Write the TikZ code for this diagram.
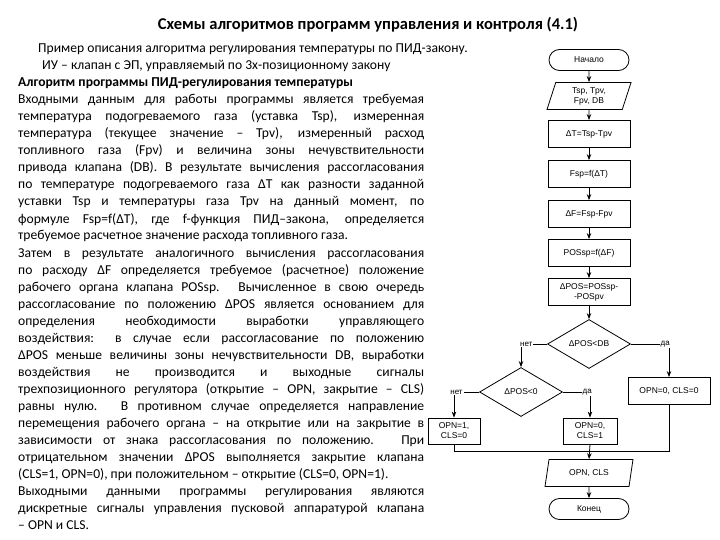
\documentclass[tikz,border=0pt]{standalone}
\usepackage{fontspec}
\setmainfont{Carlito}
\newfontfamily\fcs{Liberation Sans}
\usetikzlibrary{shapes.geometric,shapes.misc,arrows.meta}
\newcommand{\jl}[3]{\node[anchor=base west] (#1) at (18,#2) {\makebox[406pt][s]{#3}};}
\newcommand{\pl}[4]{\node[anchor=base west] (#1) at (#2,#3) {#4};}
\begin{document}
\begin{tikzpicture}[x=1pt,y=-1pt,
 txt/.style={font=\fontsize{13.6}{15}\selectfont,inner sep=0},
 fb/.style={draw,thick,font=\fcs\fontsize{8.5}{10}\selectfont,align=center,inner sep=1pt},
 proc/.style={fb,minimum width=82pt,minimum height=27pt},
 term/.style={fb,rounded rectangle,minimum width=82pt,minimum height=21pt},
 io/.style={fb,trapezium,trapezium left angle=66,trapezium right angle=114,minimum width=84pt,minimum height=27pt,trapezium stretches body},
 dec/.style={fb,diamond,minimum width=83pt,minimum height=49pt,inner sep=0},
 arr/.style={thick,-{Stealth[length=6pt]}},
 ln/.style={thick},
 lab/.style={font=\fcs\fontsize{8}{9}\selectfont,inner sep=1pt,fill=white}]
\useasboundingbox (0,0) rectangle (720,540);
\node[font=\fontsize{16.5}{18}\selectfont\bfseries] (title) at (368,25) {Схемы алгоритмов программ управления и контроля (4.1)};
\begin{scope}[every node/.style={txt}]
\pl{l1}{38}{53}{Пример описания алгоритма регулирования температуры по ПИД-закону.}
\pl{l2}{42}{70}{ИУ – клапан с ЭП, управляемый по 3х-позиционному закону}
\pl{l3}{18}{87}{\bfseries Алгоритм программы ПИД-регулирования температуры}
\jl{l4}{104}{Входными данным для работы программы является требуемая}
\jl{l5}{121}{температура подогреваемого газа (уставка Tsp), измеренная}
\jl{l6}{138}{температура (текущее значение – Tpv), измеренный расход}
\jl{l7}{155}{топливного газа (Fpv) и величина зоны нечувствительности}
\jl{l8}{172}{привода клапана (DB). В результате вычисления рассогласования}
\jl{l9}{189}{по температуре подогреваемого газа ΔT как разности заданной}
\jl{l10}{206}{уставки Tsp и температуры газа Tpv на данный момент, по}
\jl{l11}{223}{формуле Fsp=f(ΔT), где f-функция ПИД–закона, определяется}
\pl{l12}{18}{240}{требуемое расчетное значение расхода топливного газа.}
\jl{l13}{257}{Затем в результате аналогичного вычисления рассогласования}
\jl{l14}{274}{по расходу ΔF определяется требуемое (расчетное) положение}
\jl{l15}{291}{рабочего органа клапана POSsp. Вычисленное в свою очередь}
\jl{l16}{308}{рассогласование по положению ΔPOS является основанием для}
\jl{l17}{325}{определения необходимости выработки управляющего}
\jl{l18}{342}{воздействия: в случае если рассогласование по положению}
\jl{l19}{359}{ΔPOS меньше величины зоны нечувствительности DB, выработки}
\jl{l20}{376}{воздействия не производится и выходные сигналы}
\jl{l21}{393}{трехпозиционного регулятора (открытие – OPN, закрытие – CLS)}
\jl{l22}{410}{равны нулю. В противном случае определяется направление}
\jl{l23}{427}{перемещения рабочего органа – на открытие или на закрытие в}
\jl{l24}{444}{зависимости от знака рассогласования по положению. При}
\jl{l25}{461}{отрицательном значении ΔPOS выполняется закрытие клапана}
\pl{l26}{18}{478}{(CLS=1, OPN=0), при положительном – открытие (CLS=0, OPN=1).}
\jl{l27}{495}{Выходными данными программы регулирования являются}
\jl{l28}{512}{дискретные сигналы управления пусковой аппаратурой клапана}
\pl{l29}{18}{529}{– OPN и CLS.}
\end{scope}
\node[term] (start) at (589,60) {Начало};
\node[io] (in) at (589,96) {Tsp, Tpv,\\Fpv, DB};
\node[proc] (dt) at (589,134) {ΔT=Tsp-Tpv};
\node[proc] (fsp) at (589,174) {Fsp=f(ΔT)};
\node[proc] (df) at (589,214) {ΔF=Fsp-Fpv};
\node[proc] (pos) at (589,253) {POSsp=f(ΔF)};
\node[proc] (dpos) at (589,292) {ΔPOS=POSsp-\\-POSpv};
\node[dec] (d1) at (589,344) {ΔPOS<DB};
\node[dec] (d2) at (521,392) {ΔPOS<0};
\node[proc,minimum width=82pt] (zero) at (669,391) {OPN=0, CLS=0};
\node[proc,minimum width=52pt,minimum height=26pt] (opn) at (454,431) {OPN=1,\\CLS=0};
\node[proc,minimum width=54pt,minimum height=26pt] (cls) at (590,431) {OPN=0,\\CLS=1};
\node[io,minimum width=88pt] (out) at (589,473) {OPN, CLS};
\node[term] (end) at (589,509) {Конец};
\draw[arr] (start) -- (in);
\draw[arr] (in) -- (dt);
\draw[arr] (dt) -- (fsp);
\draw[arr] (fsp) -- (df);
\draw[arr] (df) -- (pos);
\draw[arr] (pos) -- (dpos);
\draw[arr] (dpos) -- (d1);
\coordinate (m) at (589,451);
\draw[arr] (d1.west) -| node[lab,pos=0.4] {нет} (d2.north);
\draw[arr] (d1.east) -| node[lab,pos=0.45] {да} (zero.north);
\draw[arr] (d2.west) -| node[lab,pos=0.45] {нет} (opn.north);
\draw[arr] (d2.east) -| node[lab,pos=0.45] {да} (cls.north);
\draw[ln] (opn.south) |- (m);
\draw[ln] (zero.south) |- (m);
\draw[arr] (cls.south) -- (out.north);
\draw[arr] (out) -- (end);
\end{tikzpicture}
\end{document}
